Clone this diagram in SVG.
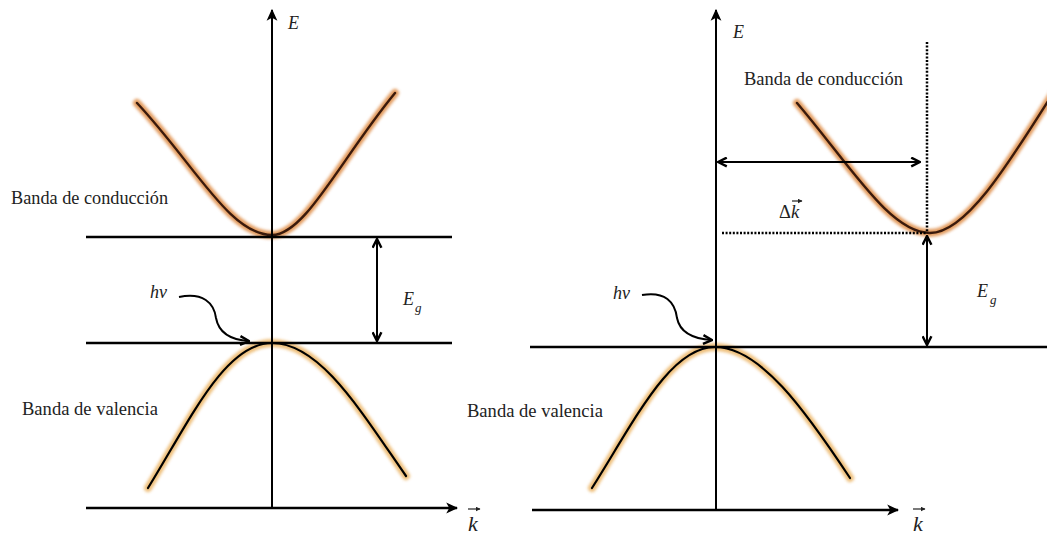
<svg xmlns="http://www.w3.org/2000/svg" width="1047" height="538" viewBox="0 0 1047 538">
<defs>
<style>
.ln{stroke:#000;stroke-width:2.6;fill:none}
.ax{stroke:#000;stroke-width:2;fill:none}
.dot{stroke:#000;stroke-width:2.5;fill:none;stroke-dasharray:2 1.6}
.lbl{font-family:"Liberation Serif","Times New Roman",serif;font-size:18.5px;fill:#222}
.it{font-family:"Liberation Serif","Times New Roman",serif;font-style:italic;fill:#222}
.cglow{stroke:#e0924f;stroke-width:8;fill:none;stroke-linecap:round;opacity:0.9}
.ccore{stroke:#3a1a0c;stroke-width:2.4;fill:none;stroke-linecap:round}
.vglow{stroke:#edb96e;stroke-width:8;fill:none;stroke-linecap:round;opacity:0.9}
.vcore{stroke:#000;stroke-width:2.2;fill:none;stroke-linecap:round}
.acc{stroke:#222;stroke-width:1.2;fill:none}
</style>
<filter id="blur" x="-10%" y="-10%" width="120%" height="120%"><feGaussianBlur stdDeviation="1.6"/></filter>
<marker id="ah2" viewBox="0 0 10 10" refX="9" refY="5" markerWidth="11" markerHeight="11" orient="auto-start-reverse" markerUnits="userSpaceOnUse">
<path d="M1,1 L9,5 L1,9" fill="none" stroke="#000" stroke-width="2.2"/>
</marker>
<marker id="ah3" viewBox="0 0 10 10" refX="9" refY="5" markerWidth="12" markerHeight="12" orient="auto-start-reverse" markerUnits="userSpaceOnUse">
<path d="M0,0.5 L10,5 L0,9.5 L2.5,5 z" fill="#000"/>
</marker>
<marker id="acch" viewBox="0 0 10 10" refX="9" refY="5" markerWidth="5" markerHeight="5" orient="auto" markerUnits="userSpaceOnUse">
<path d="M0,0 L10,5 L0,10 z" fill="#222"/>
</marker>
</defs>
<rect width="1047" height="538" fill="#fff"/>

<g id="left-diagram">
<g id="left-curves">
<path class="cglow" filter="url(#blur)" d="M137,103 C195,165 230,235 272,235 C305,235 340,160 395,93"/>
<path class="ccore" d="M137,103 C195,165 230,235 272,235 C305,235 340,160 395,93"/>
<path class="vglow" filter="url(#blur)" d="M148,488 C190,420 225,343 272,343 C320,343 360,410 406,476"/>
<path class="vcore" d="M148,488 C190,420 225,343 272,343 C320,343 360,410 406,476"/>
</g>
<g id="left-lines">
<line class="ln" x1="86" y1="237" x2="452" y2="237"/>
<line class="ln" x1="86" y1="343" x2="452" y2="343"/>
<line class="ln" x1="86" y1="508" x2="457" y2="508" marker-end="url(#ah3)"/>
<line class="ax" x1="272" y1="508" x2="272" y2="10" marker-end="url(#ah3)"/>
<line class="ax" x1="377" y1="239" x2="377" y2="341" marker-start="url(#ah2)" marker-end="url(#ah2)"/>
<path class="ax" d="M179,297 C203,292 214,303 216,318 C219,334 232,340 249,341" marker-end="url(#ah2)"/>
</g>
<g id="left-labels">
<text class="lbl" x="11" y="204" textLength="157" lengthAdjust="spacingAndGlyphs">Banda de conducción</text>
<text class="lbl" x="22" y="415" textLength="136" lengthAdjust="spacingAndGlyphs">Banda de valencia</text>
<text class="it" x="288" y="29" font-size="18">E</text>
<text class="it" x="150" y="298" font-size="18">hν</text>
<text class="it" x="403" y="305" font-size="18">E</text>
<text class="it" x="415" y="312" font-size="13">g</text>
<text class="it" x="468" y="531" font-size="22">k</text>
<line class="acc" x1="468" y1="509" x2="480" y2="509" marker-end="url(#acch)"/>
</g>
</g>

<g id="right-diagram">
<g id="right-curves">
<path class="cglow" filter="url(#blur)" d="M797,103 C850,165 890,233 930,233 C965,233 1005,170 1055,90"/>
<path class="ccore" d="M797,103 C850,165 890,233 930,233 C965,233 1005,170 1055,90"/>
<path class="vglow" filter="url(#blur)" d="M592,488 C635,420 670,347 715,347 C760,347 805,410 850,478"/>
<path class="vcore" d="M592,488 C635,420 670,347 715,347 C760,347 805,410 850,478"/>
</g>
<g id="right-lines">
<line class="ln" x1="530" y1="347" x2="1047" y2="347"/>
<line class="ln" x1="532" y1="510" x2="898" y2="510" marker-end="url(#ah3)"/>
<line class="ax" x1="716" y1="510" x2="716" y2="10" marker-end="url(#ah3)"/>
<line class="dot" x1="722" y1="233" x2="927" y2="233"/>
<line class="dot" x1="927" y1="42" x2="927" y2="233"/>
<line class="ax" x1="718" y1="162" x2="920" y2="162" marker-start="url(#ah2)" marker-end="url(#ah2)"/>
<line class="ax" x1="927" y1="236" x2="927" y2="345" marker-start="url(#ah2)" marker-end="url(#ah2)"/>
<path class="ax" d="M642,295 C665,291 675,302 677,318 C680,333 695,339 712,340" marker-end="url(#ah2)"/>
</g>
<g id="right-labels">
<text class="lbl" x="744" y="85" textLength="159" lengthAdjust="spacingAndGlyphs">Banda de conducción</text>
<text class="lbl" x="467" y="417" textLength="136" lengthAdjust="spacingAndGlyphs">Banda de valencia</text>
<text class="it" x="733" y="38" font-size="18">E</text>
<text class="it" x="613" y="299" font-size="18">hν</text>
<text class="it" x="977" y="297" font-size="18">E</text>
<text class="it" x="990" y="304" font-size="13">g</text>
<text class="lbl" x="779" y="218" font-size="18">Δ<tspan class="it">k</tspan></text>
<line class="acc" x1="792" y1="201" x2="802" y2="201" marker-end="url(#acch)"/>
<text class="it" x="913" y="531" font-size="22">k</text>
<line class="acc" x1="913" y1="509" x2="925" y2="509" marker-end="url(#acch)"/>
</g>
</g>
</svg>
